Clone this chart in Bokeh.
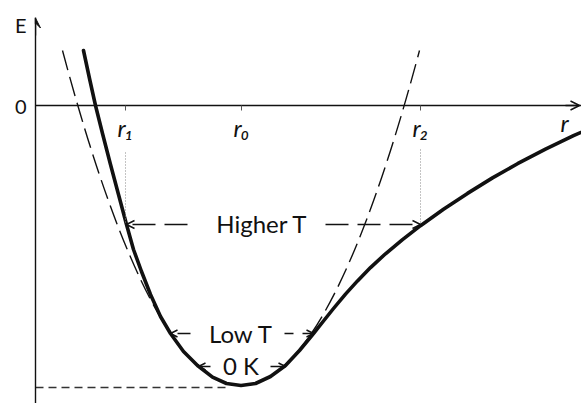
from bokeh.plotting import figure
from bokeh.models import LinearAxis, FixedTicker, Arrow, OpenHead, VeeHead, Label
from bokeh.embed import file_html
from bokeh.resources import INLINE

# ---- data (arbitrary units: r = separation, E = energy) ----
r_curve = [0.48, 0.54, 0.60, 0.67, 0.75, 0.83, 0.91, 0.98, 1.06, 1.15, 1.25, 1.35,
           1.48, 1.62, 1.77, 1.91, 2.055, 2.20, 2.35, 2.50, 2.64, 2.78, 2.88, 2.98,
           3.10, 3.22, 3.35, 3.50, 3.67, 3.85, 4.08, 4.32, 4.57, 4.82, 5.10, 5.38, 5.55]
E_curve = [0.55, 0.27, 0.00, -0.28, -0.59, -0.89, -1.19, -1.44, -1.66, -1.89, -2.11, -2.28,
           -2.46, -2.60, -2.716, -2.78, -2.80, -2.78, -2.71, -2.60, -2.45, -2.28, -2.155, -2.03,
           -1.886, -1.754, -1.621, -1.483, -1.342, -1.202, -1.037, -0.879, -0.724, -0.582, -0.436, -0.302, -0.226]

# harmonic (parabolic) approximation: two end points and the control point of one quadratic curve
harm_r_ends = [0.27, 3.84]
harm_E_top = 0.55
harm_r_ctrl = 2.055
harm_E_ctrl = -6.15

E_min = -2.82           # zero-point line level
r_min_line_end = 1.90

tick_r = [0.90, 2.06, 3.85]
tick_labels = ["r\u2081", "r\u2080", "r\u2082"]

levels = ["Higher T", "Low T", "0 K"]
level_E = [-1.19, -2.28, -2.61]
level_r_left = [0.91, 1.35, 1.63]
level_r_right = [3.85, 2.78, 2.50]
level_text_r = [2.265, 2.055, 2.055]
level_text_baseline_E = [-1.18, -2.28, -2.60]

FONT = "Lato"
INK = "#111111"

p = figure(width=581, height=403, x_range=(0, 5.46), y_range=(-2.98, 0.88),
           output_backend="svg", toolbar_location=None,
           x_axis_type=None, y_axis_type=None,
           min_border_left=35, min_border_right=0, min_border_top=17, min_border_bottom=0)
p.outline_line_color = None
p.background_fill_color = "white"
p.border_fill_color = "white"

# y axis (left edge of frame)
yaxis = LinearAxis(ticker=FixedTicker(ticks=[0, 0.81]),
                   major_label_overrides={0: "0", 0.81: "E"},
                   major_tick_out=0, major_tick_in=0, minor_tick_out=0, minor_tick_in=0,
                   major_label_standoff=9, major_label_text_font=FONT,
                   major_label_text_font_size="20px", major_label_text_color=INK,
                   axis_line_width=1.4, axis_line_color=INK)
p.add_layout(yaxis, "left")

# x axis at E = 0
xaxis = LinearAxis(fixed_location=0, ticker=FixedTicker(ticks=tick_r),
                   major_label_overrides={t: l for t, l in zip(tick_r, tick_labels)},
                   major_tick_out=5, major_tick_in=0, minor_tick_out=0, minor_tick_in=0,
                   major_tick_line_color="#555555",
                   major_label_standoff=2, major_label_text_font=FONT,
                   major_label_text_font_style="italic",
                   major_label_text_font_size="24px", major_label_text_color=INK,
                   axis_line_width=1.4, axis_line_color=INK)
p.add_layout(xaxis, "below")

# axis arrow heads
p.add_layout(Arrow(end=OpenHead(size=9, line_width=1.4, line_color=INK),
                   x_start=5.30, y_start=0, x_end=5.44, y_end=0,
                   line_width=1.4, line_color=INK))
p.add_layout(Arrow(end=VeeHead(size=10, fill_color=INK, line_color=INK),
                   x_start=0, y_start=0.70, x_end=0, y_end=0.875,
                   line_width=1.4, line_color=INK))
p.add_layout(Label(x=5.29, y=-0.17, text="r", text_font=FONT, text_font_style="italic",
                   text_font_size="24px", text_color=INK, text_align="center",
                   text_baseline="alphabetic"))

# harmonic approximation (dashed)
p.quadratic(x0=[harm_r_ends[0]], y0=[harm_E_top], x1=[harm_r_ends[1]], y1=[harm_E_top],
            cx=[harm_r_ctrl], cy=[harm_E_ctrl],
            line_color=INK, line_width=1.4, line_dash="20 7")

# real potential (thick)
p.line(r_curve, E_curve, line_color=INK, line_width=3.6, line_join="round", line_cap="round")

# zero-point level line
p.line([0, r_min_line_end], [E_min, E_min], line_color="#333333", line_width=1.3, line_dash="8 5")

# dotted guides from r1 / r2 labels down to the Higher T level
p.segment(x0=[tick_r[0], tick_r[2]], y0=[-0.47, -0.44], x1=[tick_r[0], tick_r[2]],
          y1=[level_E[0], level_E[0]], line_color="#888888", line_width=1, line_dash="1 2")

# width arrows at each temperature level
gaps = [(0.745, 0.635, "23 9", "23 9", 8),
        (0.505, 0.435, "13 7", "9 9", 7),
        (0.305, 0.295, "solid", "solid", 7)]
for name, E, rl, rr, rt, eb, (gl, gr, dl, dr, hs) in zip(levels, level_E, level_r_left,
                                                        level_r_right, level_text_r,
                                                        level_text_baseline_E, gaps):
    p.add_layout(Arrow(end=OpenHead(size=hs, line_width=1.4, line_color=INK),
                       x_start=rt - gl, y_start=E, x_end=rl, y_end=E,
                       line_color=INK, line_width=1.4, line_dash=dl))
    p.add_layout(Arrow(end=OpenHead(size=hs, line_width=1.4, line_color=INK),
                       x_start=rt + gr, y_start=E, x_end=rr, y_end=E,
                       line_color=INK, line_width=1.4, line_dash=dr))
    p.add_layout(Label(x=rt, y=eb, text=name, text_font=FONT, text_font_size="24px",
                       text_color=INK, text_align="center", text_baseline="alphabetic"))

open("out.html", "w").write(file_html(p, INLINE))
